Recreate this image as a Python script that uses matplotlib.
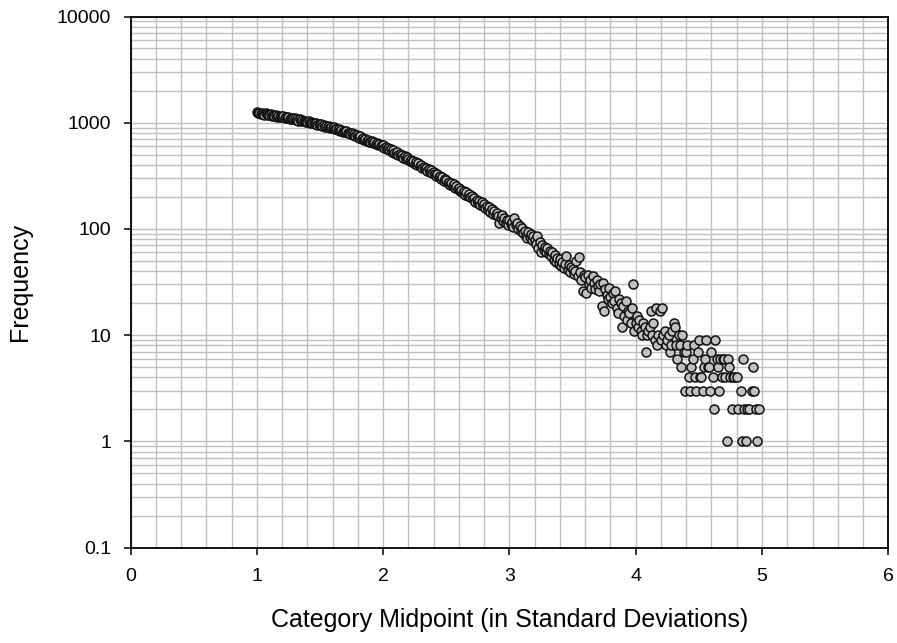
import numpy as np
import matplotlib
matplotlib.use("Agg")
import matplotlib.pyplot as plt
from matplotlib.ticker import MultipleLocator, LogLocator, NullFormatter

# category midpoints start at 1.00 and step by 0.01 (one row below = 0.1 SD)
x_start = 1.00
x_step = 0.01

freq = [
    1262, 1228, 1241, 1205, 1233, 1219, 1190, 1226, 1201, 1188,  # 1.0
    1172, 1203, 1165, 1181, 1150, 1176, 1142, 1168, 1139, 1155,  # 1.1
    1128, 1151, 1110, 1134, 1098, 1121, 1085, 1112, 1079, 1103,  # 1.2
    1096, 1062, 1074, 1049, 1081, 1040, 1058, 1027, 1046, 1015,  # 1.3
    1021, 1038, 995, 1012, 984, 1003, 967, 990, 958, 976,        # 1.4
    949, 972, 938, 955, 918, 941, 906, 927, 893, 912,            # 1.5
    884, 903, 867, 879, 851, 870, 838, 856, 822, 841,            # 1.6
    809, 828, 792, 805, 776, 794, 760, 781, 748, 766,            # 1.7
    739, 722, 748, 705, 719, 690, 708, 676, 695, 664,            # 1.8
    661, 678, 645, 652, 630, 647, 615, 633, 601, 620,            # 1.9
    612, 584, 597, 566, 578, 549, 563, 535, 551, 522,            # 2.0
    507, 528, 494, 512, 481, 496, 468, 485, 455, 472,            # 2.1
    459, 437, 446, 423, 435, 412, 426, 401, 415, 392,            # 2.2
    398, 377, 386, 365, 374, 353, 368, 342, 357, 336,            # 2.3
    341, 326, 318, 332, 306, 314, 297, 309, 285, 298,            # 2.4
    286, 271, 277, 259, 268, 251, 262, 244, 253, 236,            # 2.5
    241, 228, 233, 218, 226, 210, 221, 203, 214, 198,            # 2.6
    204, 190, 196, 181, 188, 175, 184, 168, 178, 163,            # 2.7
    171, 158, 164, 150, 160, 145, 153, 139, 149, 136,            # 2.8
    141, 131, 113, 126, 134, 119, 128, 114, 122, 110,            # 2.9
    121, 112, 116, 104, 127, 108, 113, 99, 106, 95,              # 3.0
    101, 92, 96, 86, 82, 93, 84, 89, 78, 85,                     # 3.1
    79, 72, 85, 66, 75, 60, 70, 63, 68, 61,                      # 3.2
    66, 58, 62, 55, 61, 51, 57, 49, 53, 47,                      # 3.3
    52, 45, 49, 43, 47, 56, 41, 46, 39, 44,                      # 3.4
    42, 38, 40, 50, 36, 54, 39, 33, 26, 37,                      # 3.5
    35, 25, 37, 30, 33, 28, 36, 31, 27, 33,                      # 3.6
    29, 26, 30, 19, 31, 17, 27, 24, 22, 28,                      # 3.7
    23, 20, 25, 21, 26, 18, 16, 22, 20, 12,                      # 3.8
    19, 15, 21, 14, 17, 16, 13, 18, 30, 11,                      # 3.9
    13, 15, 12, 14, 11, 10, 13, 12, 7, 10,                       # 4.0
    11, 12, 17, 10, 13, 9, 18, 8, 10, 17,                        # 4.1
    9, 18, 10, 11, 8, 9, 10, 7, 8, 11,                           # 4.2
    13, 12, 8, 6, 10, 8, 5, 10, 7, 3,                            # 4.3
    7, 8, 4, 3, 5, 6, 8, 4, 3, 7,                                # 4.4
    9, 4, 4, 3, 5, 6, 9, 5, 5, 3,                                # 4.5
    7, 4, 2, 9, 6, 5, 3, 6, 4, 6,                                # 4.6
    6, 4, 1, 6, 5, 4, 2, 4, 4, 0,                                # 4.7
    4, 2, 0, 3, 1, 6, 2, 1, 2, 0,                                # 4.8
    2, 0, 3, 5, 3, 2, 1, 0, 2, 0,                                # 4.9
]

x_ticks = [0, 1, 2, 3, 4, 5, 6]
y_ticks = [0.1, 1, 10, 100, 1000, 10000]
y_tick_labels = ["0.1", "1", "10", "100", "1000", "10000"]

freq = np.array(freq, dtype=float)
x = np.round(x_start + x_step * np.arange(len(freq)), 2)
shown = freq > 0  # empty categories can't go on a log axis

plt.rcParams['font.family'] = ['Liberation Sans', 'DejaVu Sans']

fig = plt.figure(figsize=(8.97, 6.43), dpi=100)
ax = fig.add_axes([0.1455, 0.1485, 0.8448, 0.8258])

ax.set_yscale('log')
ax.set_xlim(0, 6)
ax.set_ylim(0.1, 10000)

ax.set_xticks(x_ticks)
ax.xaxis.set_minor_locator(MultipleLocator(0.2))
ax.set_yticks(y_ticks, y_tick_labels)
ax.yaxis.set_minor_locator(LogLocator(base=10, subs=np.arange(2, 10)))
ax.yaxis.set_minor_formatter(NullFormatter())

ax.grid(which='both', color='#c0c0c0', linewidth=1.0)
ax.set_axisbelow(True)
ax.tick_params(which='minor', length=0)
ax.tick_params(which='major', direction='out', length=5, width=1.1,
               labelsize=14)
ax.tick_params(axis='x', pad=10)
ax.tick_params(axis='y', pad=9)
for s in ax.spines.values():
    s.set_linewidth(1.3)

ax.scatter(x[shown], freq[shown], s=42, c='#c0c0c0', edgecolors='#111111',
           linewidths=1.1, zorder=3)

ax.set_xlabel("Category Midpoint (in Standard Deviations)", fontsize=18, labelpad=16)
ax.set_ylabel("Frequency", fontsize=18, labelpad=18)

fig.savefig("out.png", dpi=100)
